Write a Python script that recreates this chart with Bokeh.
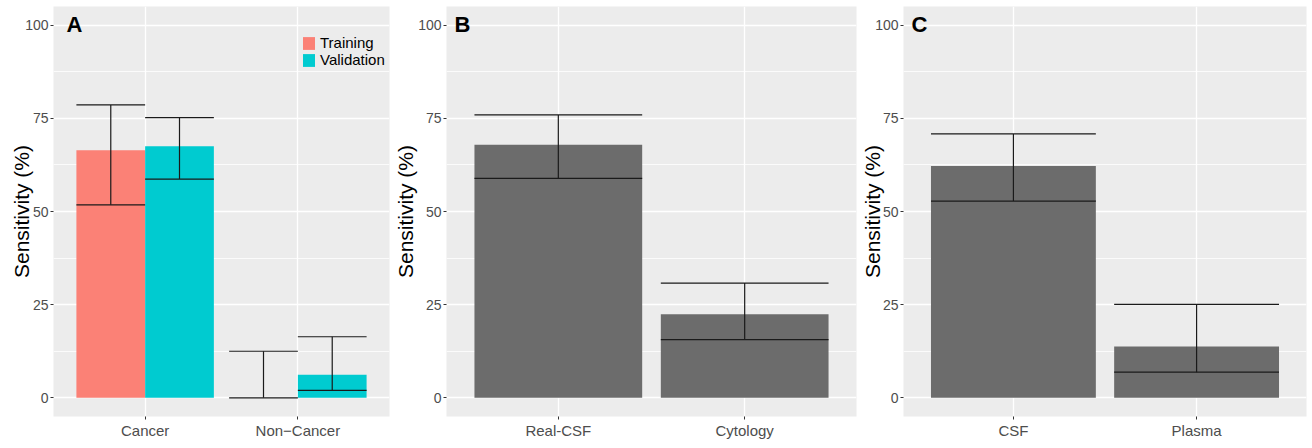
from bokeh.plotting import figure
from bokeh.models import (FactorRange, Range1d, FixedTicker, Label, Legend,
                          LegendItem, ColumnDataSource)
from bokeh.transform import dodge
from bokeh.layouts import row
from bokeh.embed import file_html
from bokeh.resources import INLINE

# ---------------- data ----------------
# Panel A
a_groups = ["Cancer", "Non\u2212Cancer"]
a_series = ["Training", "Validation"]
a_train = [66.4, 0.0]
a_train_lo = [51.8, 0.0]
a_train_hi = [78.6, 12.5]
a_valid = [67.5, 6.2]
a_valid_lo = [58.7, 2.0]
a_valid_hi = [75.2, 16.4]

# Panel B
b_cats = ["Real-CSF", "Cytology"]
b_vals = [67.9, 22.4]
b_lo = [58.9, 15.6]
b_hi = [75.9, 30.8]

# Panel C
c_cats = ["CSF", "Plasma"]
c_vals = [62.2, 13.8]
c_lo = [52.8, 6.9]
c_hi = [70.8, 25.1]

y_ticks = [0, 25, 50, 75, 100]
y_minor = [12.5, 37.5, 62.5, 87.5]
y_limits = (-5, 105)
y_title = "Sensitivity (%)"
panel_letters = ["A", "B", "C"]

# ---------------- style ----------------
FONT = "Liberation Sans"
FH = 410
TOP = 6
PANEL_BG = "#ECECEC"
TRAIN_COLOR = "#FB8176"
VALID_COLOR = "#00CBD0"
GREY_BAR = "#6C6C6C"
ERR_COLOR = "#1A1A1A"
BAR_W = 0.9
DODGE_W = 0.45


def base_fig(cats, fw, left, right, title_standoff, letter, letter_x):
    p = figure(x_range=FactorRange(*cats, range_padding=0.1,
                                   range_padding_units="absolute"),
               y_range=Range1d(*y_limits), frame_width=fw, frame_height=FH,
               output_backend="svg", toolbar_location=None,
               min_border_left=left, min_border_right=right,
               min_border_top=TOP, min_border_bottom=24)
    p.background_fill_color = PANEL_BG
    p.border_fill_color = "white"
    p.outline_line_color = None

    ticker = FixedTicker(ticks=y_ticks, minor_ticks=y_minor)
    p.yaxis.ticker = ticker
    p.ygrid.ticker = ticker
    p.ygrid.grid_line_color = "white"
    p.ygrid.grid_line_width = 1.4
    p.ygrid.minor_grid_line_color = "white"
    p.ygrid.minor_grid_line_width = 0.8
    p.xgrid.grid_line_color = "white"
    p.xgrid.grid_line_width = 1.4

    for ax in (p.xaxis, p.yaxis):
        ax.axis_line_color = None
        ax.major_tick_line_color = "#333333"
        ax.major_tick_out = 3
        ax.major_tick_in = 0
        ax.minor_tick_out = 0
        ax.minor_tick_in = 0
        ax.major_label_text_color = "#4D4D4D"
        ax.major_label_text_font = FONT
        ax.major_label_standoff = 2
    p.xaxis.major_label_text_font_size = "15px"
    p.yaxis.major_label_text_font_size = "14px"

    p.yaxis.axis_label = y_title
    p.yaxis.axis_label_text_font = FONT
    p.yaxis.axis_label_text_font_size = "21px"
    p.yaxis.axis_label_text_font_style = "normal"
    p.yaxis.axis_label_text_color = "black"
    p.yaxis.axis_label_standoff = title_standoff

    # panel letter
    p.add_layout(Label(x=letter_x, y=FH - 18, x_units="screen",
                       y_units="screen", text=letter, text_font=FONT,
                       text_font_size="22px", text_font_style="bold",
                       text_color="black", text_baseline="alphabetic"))
    return p


def err_bars(p, src, xcol, offset, width, lo, hi):
    half = width / 2
    p.segment(x0=dodge(xcol, offset, range=p.x_range), y0=lo,
              x1=dodge(xcol, offset, range=p.x_range), y1=hi,
              source=src, line_color=ERR_COLOR, line_width=1.2)
    for col in (lo, hi):
        p.segment(x0=dodge(xcol, offset - half, range=p.x_range), y0=col,
                  x1=dodge(xcol, offset + half, range=p.x_range), y1=col,
                  source=src, line_color=ERR_COLOR, line_width=1.2)


# ---------------- Panel A ----------------
pa = base_fig(a_groups, 336, 53, 1, -11, panel_letters[0], 13)
src_a = ColumnDataSource(dict(cat=a_groups, train=a_train, tlo=a_train_lo,
                              thi=a_train_hi, valid=a_valid, vlo=a_valid_lo,
                              vhi=a_valid_hi))
r_t = pa.vbar(x=dodge("cat", -DODGE_W / 2, range=pa.x_range), top="train",
              width=DODGE_W, source=src_a, fill_color=TRAIN_COLOR,
              line_color=None)
r_v = pa.vbar(x=dodge("cat", DODGE_W / 2, range=pa.x_range), top="valid",
              width=DODGE_W, source=src_a, fill_color=VALID_COLOR,
              line_color=None)
err_bars(pa, src_a, "cat", -DODGE_W / 2, DODGE_W, "tlo", "thi")
err_bars(pa, src_a, "cat", DODGE_W / 2, DODGE_W, "vlo", "vhi")
legend = Legend(items=[LegendItem(label=a_series[0], renderers=[r_t]),
                       LegendItem(label=a_series[1], renderers=[r_v])],
                location=(248, 348), padding=0, margin=0, spacing=0,
                glyph_width=15, glyph_height=16, label_height=16,
                label_standoff=4, label_text_font=FONT,
                label_text_font_size="15px", label_text_color="black",
                border_line_color=None, background_fill_alpha=0)
pa.add_layout(legend)

# ---------------- Panel B ----------------
pb = base_fig(b_cats, 410, 56, 2, -2, panel_letters[1], 8)
src_b = ColumnDataSource(dict(cat=b_cats, val=b_vals, lo=b_lo, hi=b_hi))
pb.vbar(x="cat", top="val", width=BAR_W, source=src_b, fill_color=GREY_BAR,
        line_color=None)
err_bars(pb, src_b, "cat", 0.0, BAR_W, "lo", "hi")

# ---------------- Panel C ----------------
pc = base_fig(c_cats, 403, 42, 1, -12, panel_letters[2], 8)
src_c = ColumnDataSource(dict(cat=c_cats, val=c_vals, lo=c_lo, hi=c_hi))
pc.vbar(x="cat", top="val", width=BAR_W, source=src_c, fill_color=GREY_BAR,
        line_color=None)
err_bars(pc, src_c, "cat", 0.0, BAR_W, "lo", "hi")

layout = row(pa, pb, pc, spacing=0)
open("out.html", "w").write(file_html(layout, INLINE))
